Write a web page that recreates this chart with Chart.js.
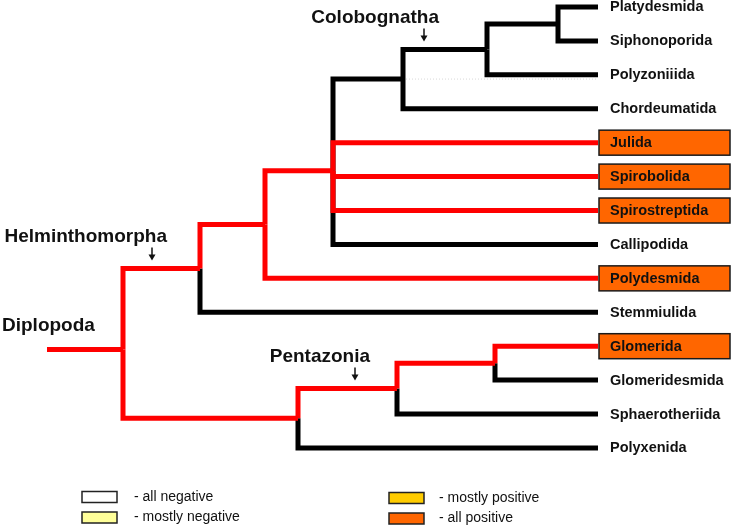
<!DOCTYPE html>
<html>
<head>
<meta charset="utf-8">
<script src="https://cdn.jsdelivr.net/npm/chart.js@4/dist/chart.umd.min.js"></script>
<style>
  html, body { margin: 0; padding: 0; background: #ffffff; }
  #wrap { width: 736px; height: 527px; }
</style>
</head>
<body>
<div id="wrap"><canvas id="c" width="736" height="527"></canvas></div>
<script>
// ---------------- DATA ----------------
// Terminal taxa, top to bottom (one row each)
const leaves = ['Platydesmida','Siphonoporida','Polyzoniiida','Chordeumatida','Julida','Spirobolida',
  'Spirostreptida','Callipodida','Polydesmida','Stemmiulida','Glomerida','Glomeridesmida',
  'Sphaerotheriida','Polyxenida'];
// State of the branch leading to each leaf ('pos' = red, 'neg' = black)
const leafState = ['neg','neg','neg','neg','pos','pos','pos','neg','pos','neg','pos','neg','neg','neg'];
// Result category shown as a box next to the leaf (null = no box)
const leafResult = [null,null,null,null,'all positive','all positive','all positive',null,
  'all positive',null,'all positive',null,null,null];

// Internal nodes: depth (x position along tree axis) and children (leaf name or node index)
const nodeDepth    = [558, 487, 403, 333, 265, 200, 495, 397, 298, 123];
const nodeChildren = [
  ['Platydesmida','Siphonoporida'],
  [0,'Polyzoniiida'],
  [1,'Chordeumatida'],
  [2,'Julida','Spirobolida','Spirostreptida','Callipodida'],
  [3,'Polydesmida'],
  [4,'Stemmiulida'],
  ['Glomerida','Glomeridesmida'],
  [6,'Sphaerotheriida'],
  [7,'Polyxenida'],
  [5,8]
];
const nodeState = ['neg','neg','neg','pos','pos','pos','pos','pos','pos','pos'];
const nodeRowRead = [null,null,null,null,null,null,null,null,null,10.1];
const rootNode = 9;
const rootName = 'Diplopoda';
const rootStemStart = 47;
const tipDepth = 598;

// Named clades: label, node whose stem carries the arrow, arrow position along depth axis
const cladeNames = ['Colobognatha','Helminthomorpha','Pentazonia'];
const cladeNodes = [1, 5, 7];
const cladeArrowAt = [424, 152, 355];

// Legend categories
const legendLabels = ['- all negative','- mostly negative','- mostly positive','- all positive'];
const legendColors = ['#ffffff','#ffff99','#ffcc00','#ff6600'];

// ---------------- BUILD ----------------
const stateColor = { pos: '#ff0000', neg: '#000000' };
const resultColor = {};
legendLabels.forEach((l, i) => { resultColor[l.replace('- ', '')] = legendColors[i]; });

const nodeY = [];
function childRow(c) { return typeof c === 'string' ? leaves.indexOf(c) : rowOfNode(c); }
function childDepth(c) { return typeof c === 'string' ? tipDepth : nodeDepth[c]; }
function childState(c) { return typeof c === 'string' ? leafState[leaves.indexOf(c)] : nodeState[c]; }
function rowOfNode(i) {
  if (nodeY[i] === undefined) {
    if (nodeRowRead[i] !== null) {
      nodeY[i] = nodeRowRead[i];
    } else {
      const rows = nodeChildren[i].map(childRow);
      nodeY[i] = rows.reduce((a, b) => a + b, 0) / rows.length;
    }
  }
  return nodeY[i];
}
nodeDepth.forEach((_, i) => rowOfNode(i));

const datasets = [];
function addPath(points, state) {
  datasets.push({
    data: points,
    showLine: true,
    borderColor: stateColor[state],
    borderWidth: 5,
    pointRadius: 0,
    pointHoverRadius: 0,
    fill: false,
    tension: 0,
    borderJoinStyle: 'miter',
    borderCapStyle: 'butt',
    order: state === 'pos' ? 0 : 1
  });
}
nodeChildren.forEach((children, i) => {
  children.forEach(c => {
    addPath([
      { x: nodeDepth[i], y: nodeY[i] },
      { x: nodeDepth[i], y: childRow(c) },
      { x: childDepth(c), y: childRow(c) }
    ], childState(c));
  });
});
addPath([{ x: rootStemStart, y: nodeY[rootNode] }, { x: nodeDepth[rootNode], y: nodeY[rootNode] }], nodeState[rootNode]);

// faint dotted guide visible in the reference at the Colobognatha-stem level
datasets.push({
  data: [{ x: nodeDepth[2], y: nodeY[2] }, { x: tipDepth, y: nodeY[2] }],
  showLine: true, borderColor: '#d8d8d8', borderWidth: 1, borderDash: [1, 2],
  pointRadius: 0, fill: false, order: 2
});

// ---------------- LABEL PLUGIN ----------------
const FONT = '"Liberation Sans", Arial, Helvetica, sans-serif';
const treeText = {
  id: 'treeText',
  afterDatasetsDraw(chart) {
    const ctx = chart.ctx;
    const sx = chart.scales.x, sy = chart.scales.y;
    ctx.save();
    ctx.textBaseline = 'middle';

    // leaf boxes + names
    leaves.forEach((name, i) => {
      const y = sy.getPixelForValue(i);
      const x0 = sx.getPixelForValue(tipDepth);
      if (leafResult[i]) {
        ctx.fillStyle = resultColor[leafResult[i]];
        ctx.fillRect(x0 + 1, y - 12.5, 131, 25);
        ctx.lineWidth = 1.5;
        ctx.strokeStyle = '#1a1a1a';
        ctx.strokeRect(x0 + 1, y - 12.5, 131, 25);
      }
      ctx.fillStyle = '#111111';
      ctx.font = 'bold 14.5px ' + FONT;
      ctx.textAlign = 'left';
      ctx.fillText(name, x0 + 12, y + 0.5);
    });

    // clade labels with arrows
    ctx.font = 'bold 19px ' + FONT;
    cladeNames.forEach((name, k) => {
      const ax = sx.getPixelForValue(cladeArrowAt[k]);
      const by = sy.getPixelForValue(nodeY[cladeNodes[k]]);
      ctx.fillStyle = '#111111';
      ctx.textAlign = 'right';
      ctx.fillText(name, ax + 15, by - 32);
      ctx.strokeStyle = '#111111';
      ctx.lineWidth = 1.5;
      ctx.beginPath();
      ctx.moveTo(ax, by - 21);
      ctx.lineTo(ax, by - 13);
      ctx.stroke();
      ctx.beginPath();
      ctx.moveTo(ax - 3.5, by - 14);
      ctx.lineTo(ax + 3.5, by - 14);
      ctx.lineTo(ax, by - 8);
      ctx.closePath();
      ctx.fill();
    });

    // root label
    ctx.textAlign = 'left';
    ctx.fillText(rootName, 2, sy.getPixelForValue(nodeY[rootNode]) - 24);

    // legend (two columns)
    const legendPos = [[82, 497], [82, 517.5], [389, 498], [389, 518.5]];
    ctx.font = '14px ' + FONT;
    legendLabels.forEach((lab, k) => {
      const [lx, ly] = legendPos[k];
      ctx.fillStyle = legendColors[k];
      ctx.fillRect(lx, ly - 5.5, 35, 11);
      ctx.strokeStyle = '#222222';
      ctx.lineWidth = 1.5;
      ctx.strokeRect(lx, ly - 5.5, 35, 11);
      ctx.fillStyle = '#111111';
      ctx.fillText(lab, lx + (k < 2 ? 52 : 50), ly);
    });
    ctx.restore();
  }
};

// ---------------- CHART ----------------
const rowTop = 0, rowBottom = leaves.length - 1;
new Chart(document.getElementById('c'), {
  type: 'scatter',
  data: { datasets },
  options: {
    responsive: false,
    animation: false,
    events: [],
    layout: { padding: 0 },
    plugins: { legend: { display: false }, tooltip: { enabled: false } },
    scales: {
      x: { type: 'linear', display: false, min: 0, max: 736 },
      y: { type: 'linear', display: false, reverse: true,
           min: rowTop - 0.206, max: rowBottom + 2.33 }
    }
  },
  plugins: [treeText]
});
</script>
</body>
</html>
